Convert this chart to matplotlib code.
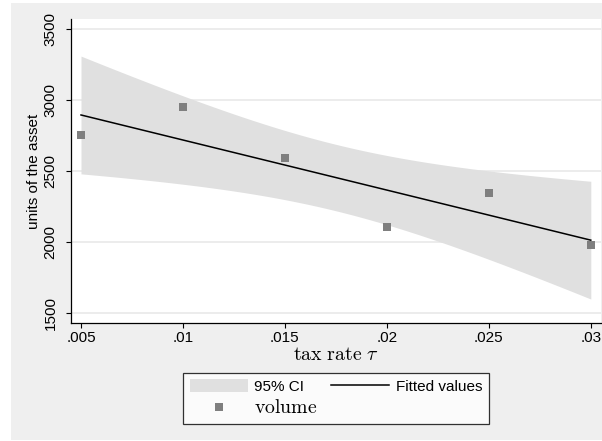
import numpy as np
import matplotlib
matplotlib.use("Agg")
import matplotlib.pyplot as plt
from matplotlib.patches import Rectangle, Patch
from matplotlib.lines import Line2D

plt.rcParams['font.family'] = ['Liberation Sans', 'DejaVu Sans']
plt.rcParams['mathtext.fontset'] = 'cm'

tax_rate = [0.005, 0.01, 0.015, 0.02, 0.025, 0.03]
volume = [2755, 2951, 2589, 2105, 2348, 1981]

x_ticks = [0.005, 0.01, 0.015, 0.02, 0.025, 0.03]
x_tick_labels = ['.005', '.01', '.015', '.02', '.025', '.03']
y_ticks = [1500, 2000, 2500, 3000, 3500]

# t quantile, 4 degrees of freedom, 95%
t_crit = 2.776

# linear fit + 95% CI of the mean prediction (like Stata lfitci)
x = np.array(tax_rate)
y = np.array(volume, dtype=float)
slope, intercept = np.polyfit(x, y, 1)
resid = y - (intercept + slope * x)
s = np.sqrt(np.sum(resid ** 2) / (len(x) - 2))
xg = np.linspace(x.min(), x.max(), 200)
fit = intercept + slope * xg
se = s * np.sqrt(1 / len(x) + (xg - x.mean()) ** 2 / np.sum((x - x.mean()) ** 2))
lo, hi = fit - t_crit * se, fit + t_crit * se

W, H = 602, 441
fig = plt.figure(figsize=(W / 100, H / 100), dpi=100, facecolor='white')
fig.patches.append(Rectangle((11 / W, 1 / H), 1 - 11 / W, 1 - 4 / H,
                             transform=fig.transFigure, facecolor='#efefef',
                             edgecolor='none', zorder=-10))

ax = fig.add_axes([71 / W, (H - 323) / H, 530 / W, 304 / H])
ax.set_facecolor('white')

ax.fill_between(xg, lo, hi, color='#e0e0e0', linewidth=0, zorder=1)
ax.plot(xg, fit, color='black', linewidth=1.1, zorder=3)
ax.plot(tax_rate, volume, 's', color='#7f7f7f', markersize=5.8,
        markeredgewidth=0, zorder=4)

ax.set_xlim(0.00451, 0.0305)
ax.set_ylim(1432, 3570)
ax.set_xticks(x_ticks)
ax.set_xticklabels(x_tick_labels)
ax.set_yticks(y_ticks)
ax.set_yticklabels([str(v) for v in y_ticks], rotation=90, va='center')
ax.yaxis.grid(True, color='#eaeaea', linewidth=1.3, zorder=0)
ax.set_axisbelow(True)

for side in ['top', 'right']:
    ax.spines[side].set_visible(False)
for side in ['left', 'bottom']:
    ax.spines[side].set_linewidth(0.9)
ax.tick_params(axis='both', length=3.6, width=0.8, labelsize=11, colors='black')
ax.tick_params(axis='y', pad=6)
ax.tick_params(axis='x', pad=2)

ax.set_ylabel('units of the asset', fontsize=11, labelpad=2)
ax.set_xlabel(r'$\mathrm{tax\ rate}\ \tau$', fontsize=14.3, labelpad=0)

handles = [Patch(facecolor='#e0e0e0', edgecolor='none', label='95% CI'),
           Line2D([], [], marker='s', linestyle='none', color='#7f7f7f',
                  markersize=5.8, markeredgewidth=0, label=r'$\mathrm{volume}$'),
           Line2D([], [], color='black', linewidth=1.1, label='Fitted values')]
leg = fig.legend(handles=handles, ncol=2, loc='upper center',
                 bbox_to_anchor=(336 / W, (H - 372.7) / H),
                 bbox_transform=fig.transFigure, fontsize=11,
                 frameon=True, fancybox=False, edgecolor='black',
                 handlelength=3.8, handleheight=1.0, handletextpad=0.45,
                 columnspacing=0.85, labelspacing=0.3, borderpad=0.4,
                 borderaxespad=0)
leg.get_texts()[1].set_fontsize(14.3)
leg.get_frame().set_linewidth(0.9)
leg.get_frame().set_facecolor('white')

fig.savefig('out.png', dpi=100, facecolor=fig.get_facecolor())
